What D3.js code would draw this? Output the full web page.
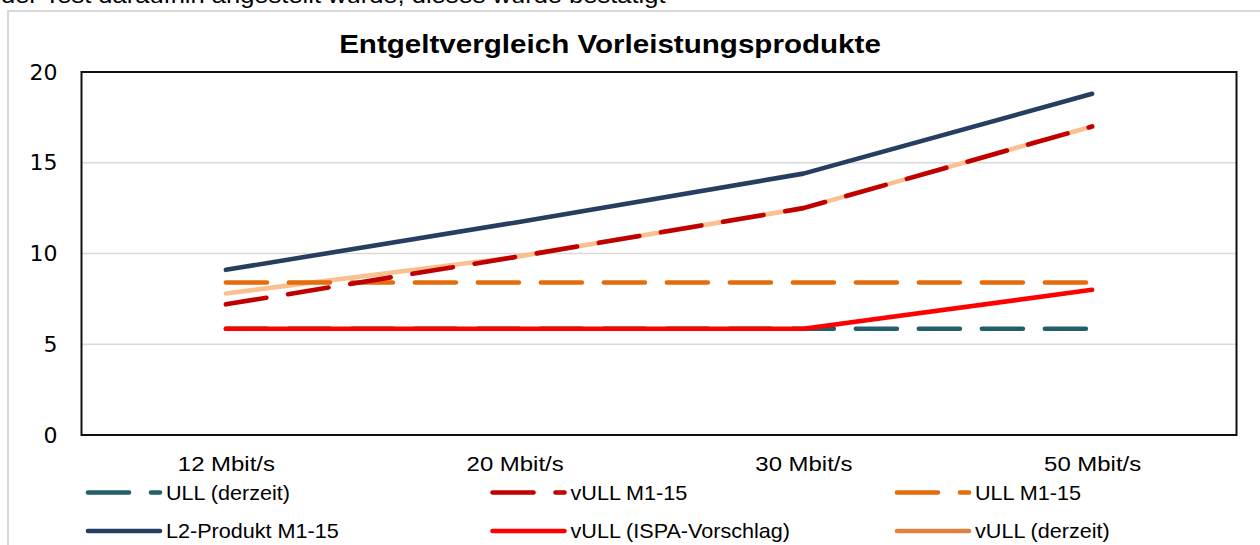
<!DOCTYPE html>
<html>
<head>
<meta charset="utf-8">
<script src="https://cdn.jsdelivr.net/npm/d3@7"></script>
<style>
  html, body { margin: 0; padding: 0; background: #fff; }
  svg { display: block; }
</style>
</head>
<body>
<svg id="chart" width="1260" height="545"></svg>
<script>
// ---- data ----
const categories = ["12 Mbit/s", "20 Mbit/s", "30 Mbit/s", "50 Mbit/s"];
const yTicks = [0, 5, 10, 15, 20];
const ullDerzeit   = [5.85, 5.85, 5.85, 5.85];
const vullM115     = [7.2, 9.8, 12.5, 17.0];
const ullM115      = [8.4, 8.4, 8.4, 8.4];
const l2M115       = [9.1, 11.7, 14.4, 18.8];
const vullIspa     = [5.85, 5.85, 5.85, 8.0];
const vullDerzeit  = [7.8, 9.8, 12.5, 17.0];
const seriesNames = ["ULL (derzeit)", "vULL M1-15", "ULL M1-15", "L2-Produkt M1-15", "vULL (ISPA-Vorschlag)", "vULL (derzeit)"];
const titleText = "Entgeltvergleich Vorleistungsprodukte";
const topText = "der Test daraufhin angestellt wurde, dieses wurde bestätigt";

// ---- styles ----
const styles = {
  "ULL (derzeit)":         { color: "#245E6B", legendColor: "#245E6B", dash: true },
  "vULL M1-15":            { color: "#C00000", legendColor: "#C00000", dash: true },
  "ULL M1-15":             { color: "#E46C0A", legendColor: "#E46C0A", dash: true },
  "L2-Produkt M1-15":      { color: "#263F60", legendColor: "#263F60", dash: false },
  "vULL (ISPA-Vorschlag)": { color: "#FF0000", legendColor: "#FF0000", dash: false },
  "vULL (derzeit)":        { color: "#FBC090", legendColor: "#DF8240", dash: false }
};
const seriesData = {
  "ULL (derzeit)": ullDerzeit,
  "vULL M1-15": vullM115,
  "ULL M1-15": ullM115,
  "L2-Produkt M1-15": l2M115,
  "vULL (ISPA-Vorschlag)": vullIspa,
  "vULL (derzeit)": vullDerzeit
};
const drawOrder = ["vULL (derzeit)", "ULL (derzeit)", "ULL M1-15", "L2-Produkt M1-15", "vULL M1-15", "vULL (ISPA-Vorschlag)"];

const svg = d3.select("#chart");
const plot = { left: 81.5, right: 1236.5, top: 72, bottom: 435 };
const lw = 4.6;
const dashArr = "41 22";
const sans = "Liberation Sans, Arial, sans-serif";

// outer chart border
svg.append("rect").attr("x", 8).attr("y", 11).attr("width", 1270).attr("height", 560)
  .attr("fill", "none").attr("stroke", "#d9d9d9").attr("stroke-width", 2);

// cut-off document text at top
svg.append("text").attr("transform", "translate(1,3) scale(1.16,1)").text(topText)
  .attr("font-family", sans).attr("font-size", 22).attr("fill", "#000");

const x = d3.scalePoint().domain(categories).range([plot.left, plot.right]).padding(0.5);
const y = d3.scaleLinear().domain([0, 20]).range([plot.bottom, plot.top]);

// gridlines
svg.append("g").selectAll("line").data(yTicks.filter(d => d > 0 && d < 20)).join("line")
  .attr("x1", plot.left).attr("x2", plot.right)
  .attr("y1", d => y(d)).attr("y2", d => y(d))
  .attr("stroke", "#d9d9d9").attr("stroke-width", 1.5);

// plot border
svg.append("rect").attr("x", plot.left).attr("y", plot.top)
  .attr("width", plot.right - plot.left).attr("height", plot.bottom - plot.top)
  .attr("fill", "none").attr("stroke", "#111").attr("stroke-width", 2);

// y axis
const yAxis = svg.append("g").attr("transform", `translate(${plot.left},0)`)
  .call(d3.axisLeft(y).tickValues(yTicks).tickSize(0).tickPadding(24).tickFormat(d3.format("d")));
yAxis.select(".domain").remove();
yAxis.selectAll("text").attr("font-family", "DejaVu Sans, Verdana, sans-serif").attr("font-size", 22).attr("fill", "#000");

// x axis
const xAxis = svg.append("g").attr("transform", `translate(0,${plot.bottom})`)
  .call(d3.axisBottom(x).tickSize(0).tickPadding(21));
xAxis.select(".domain").remove();
xAxis.selectAll("text").attr("font-family", sans).attr("font-size", 21).attr("fill", "#000")
  .attr("transform", "scale(1.14,1)");

// title
svg.append("text").attr("transform", "translate(610,53) scale(1.16,1)").attr("text-anchor", "middle")
  .attr("font-family", sans).attr("font-weight", "bold")
  .attr("font-size", 25.5).attr("fill", "#000").text(titleText);

// lines
const line = d3.line().x((d, i) => x(categories[i])).y(d => y(d));
svg.append("g").selectAll("path").data(drawOrder).join("path")
  .attr("d", name => line(seriesData[name]))
  .attr("fill", "none")
  .attr("stroke", name => styles[name].color)
  .attr("stroke-width", lw)
  .attr("stroke-linecap", "round")
  .attr("stroke-linejoin", "round")
  .attr("stroke-dasharray", name => styles[name].dash ? dashArr : null);

// legend
const legCols = 3, legX0 = 88, legDX = 404.5, legY0 = 492.5, legDY = 38.5, sampleLen = 72;
const leg = svg.append("g").selectAll("g").data(seriesNames).join("g")
  .attr("transform", (d, i) => `translate(${legX0 + (i % legCols) * legDX},${legY0 + Math.floor(i / legCols) * legDY})`);
leg.append("line").attr("x1", 0).attr("x2", sampleLen).attr("y1", 0).attr("y2", 0)
  .attr("stroke", d => styles[d].legendColor).attr("stroke-width", lw)
  .attr("stroke-linecap", "round")
  .attr("stroke-dasharray", d => styles[d].dash ? dashArr : null);
leg.append("text").attr("transform", `translate(${sampleLen + 6},0) scale(1.08,1)`).attr("dy", "0.35em")
  .attr("font-family", sans).attr("font-size", 20).attr("fill", "#000")
  .text(d => d);
</script>
</body>
</html>
